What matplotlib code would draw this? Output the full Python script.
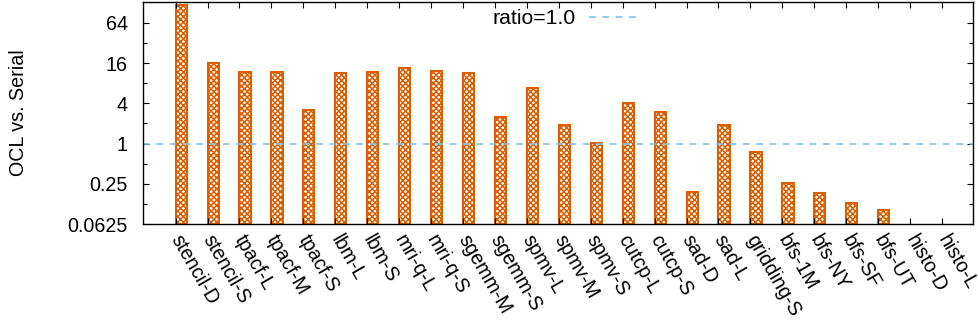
import numpy as np
import matplotlib
matplotlib.use('Agg')
import matplotlib.pyplot as plt
from matplotlib.ticker import FixedLocator, NullFormatter

plt.rcParams['font.family'] = ['Liberation Sans', 'DejaVu Sans']
plt.rcParams['hatch.linewidth'] = 1.1

benchmarks = ['stencil-D', 'stencil-S', 'tpacf-L', 'tpacf-M', 'tpacf-S',
              'lbm-L', 'lbm-S', 'mri-q-L', 'mri-q-S', 'sgemm-M', 'sgemm-S',
              'spmv-L', 'spmv-M', 'spmv-S', 'cutcp-L', 'cutcp-S', 'sad-D',
              'sad-L', 'gridding-S', 'bfs-1M', 'bfs-NY', 'bfs-SF', 'bfs-UT',
              'histo-D', 'histo-L']
# OCL speedup over serial (histo has no value)
speedup = [117, 16.1, 11.9, 11.9, 3.2,
           11.4, 11.7, 13.5, 12.1, 11.4, 2.47,
           6.8, 1.9, 1.02, 4.1, 2.98, 0.19,
           1.9, 0.76, 0.26, 0.18, 0.13, 0.10,
           np.nan, np.nan]
ytick_vals = [0.0625, 0.25, 1, 4, 16, 64]
ytick_labels = ['0.0625', '0.25', '1', '4', '16', '64']
minor_vals = [0.125, 0.5, 2, 8, 32]

bar_color = '#d95f02'
ref_color = '#7fc0e6'
base = 0.0625

fig = plt.figure(figsize=(9.79, 3.30), dpi=100)
ax = fig.add_axes([143 / 979, 1 - 224 / 330, 830 / 979, 222 / 330])

x = np.arange(len(benchmarks))
heights = np.array(speedup) - base
ax.bar(x, heights, width=0.35, align='edge', bottom=base,
       color='white', edgecolor=bar_color, hatch='xxxxxx', linewidth=1.5)

ax.axhline(1.0, color=ref_color, linestyle=(0, (4, 4)), linewidth=1.2,
           label='ratio=1.0')

ax.set_yscale('log', base=2)
ax.set_ylim(base, 132)
ax.set_xlim(-1.02, 24.97)

ax.yaxis.set_major_locator(FixedLocator(ytick_vals))
ax.set_yticklabels(ytick_labels)
ax.yaxis.set_minor_locator(FixedLocator(minor_vals))
ax.yaxis.set_minor_formatter(NullFormatter())

ax.set_xticks(x)
ax.set_xticklabels(benchmarks, rotation=-60, ha='left', va='center',
                   rotation_mode='anchor')
ax.tick_params(axis='both', which='major', direction='in', length=4,
               top=True, right=True, labelsize=14.2, width=0.8)
ax.tick_params(axis='x', pad=8.5)
ax.tick_params(axis='y', pad=11)
ax.tick_params(axis='y', which='minor', direction='in', length=3,
               right=True, width=0.8)

for sp in ax.spines.values():
    sp.set_linewidth(1.0)

ax.set_ylabel('OCL vs. Serial', fontsize=14.2)
ax.yaxis.set_label_coords(-0.139, 0.5)

ax.legend(loc='center right', bbox_to_anchor=(499 / 830, 1 - 17 / 222),
          frameon=False, markerfirst=False, fontsize=15.3,
          handlelength=2.5, handletextpad=0.6, borderaxespad=0,
          borderpad=0)

fig.savefig('out.png', dpi=100)
